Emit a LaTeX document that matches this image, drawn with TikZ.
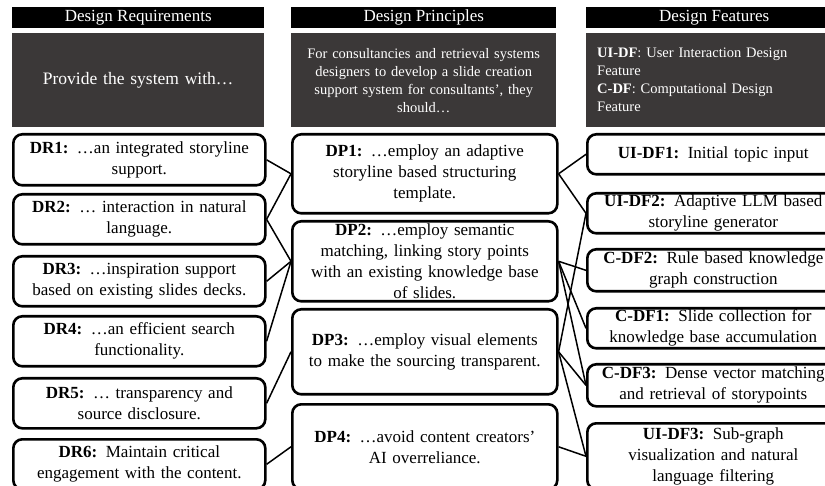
\documentclass[tikz,border=0pt]{standalone}
\usepackage{fontspec}
\setmainfont{Liberation Serif}
\usepackage{xcolor}
\usepackage{tikz}
\usetikzlibrary{positioning}
\definecolor{introgrey}{RGB}{59,56,56}

\tikzset{
    colhead/.style={fill=black, text=white, anchor=north west, inner sep=0pt,
        minimum width=252pt, minimum height=21pt, font=\fontsize{17}{21}\selectfont},
    colintro/.style={fill=introgrey, text=white, anchor=north west, inner ysep=0pt,
        minimum height=94pt, font=\fontsize{14.5}{18}\selectfont},
    itembox/.style={draw=black, line width=2.6pt, rounded corners=9pt, anchor=north west,
        align=center, inner xsep=6pt, inner ysep=0pt, font=\fontsize{17}{21}\selectfont},
    reqbox/.style={itembox, text width=240pt},
    prinbox/.style={itembox, text width=253pt},
    featbox/.style={itembox, text width=240pt},
    link/.style={line width=1.5pt}
}

\begin{document}
\begin{tikzpicture}[x=1pt, y=-1pt]
    \useasboundingbox (0,0) rectangle (825,486);
    \clip (0,0) rectangle (825,486);

    \node[colhead] (reqhead) at (12,7) {Design Requirements};
    \node[colhead, minimum width=265pt] (prinhead) at (291,7) {Design Principles};
    \node[colhead, minimum width=256pt] (feathead) at (586,7) {Design Features};

    \node[colintro, inner xsep=8pt, text width=236pt, align=center,
          font=\fontsize{17.5}{21}\selectfont] (reqintro) at (12,33) {Provide the system with…};
    \node[colintro, inner xsep=8pt, text width=249pt, align=center] (prinintro) at (291,33) {
        For consultancies and retrieval systems\\
        designers to develop a slide creation\\
        support system for consultants’, they\\
        should…};
    \node[colintro, inner xsep=11pt, text width=234pt, align=left] (featintro) at (586,33) {
        \textbf{UI-DF}: User Interaction Design\\
        Feature\\
        \textbf{C-DF}: Computational Design\\
        Feature};

    \node[reqbox, minimum height=51pt] (DR1) at (12,133) {\textbf{DR1:} …an integrated storyline\\support.};
    \node[reqbox, minimum height=50pt] (DR2) at (12,193) {\textbf{DR2:} … interaction in natural\\language.};
    \node[reqbox, minimum height=50pt] (DR3) at (12,255) {\textbf{DR3:} …inspiration support\\based on existing slides decks.};
    \node[reqbox, minimum height=50pt] (DR4) at (12,315) {\textbf{DR4:} …an efficient search\\functionality.};
    \node[reqbox, minimum height=50pt] (DR5) at (12,377) {\textbf{DR5:} … transparency and\\source disclosure.};
    \node[reqbox, minimum height=50pt] (DR6) at (12,438) {\textbf{DR6:} Maintain critical\\engagement with the content.};

    \node[prinbox, minimum height=79pt] (DP1) at (291,133) {\textbf{DP1:} …employ an adaptive\\storyline based structuring\\template.};
    \node[prinbox, minimum height=80pt] (DP2) at (291,220) {\textbf{DP2:} …employ semantic\\matching, linking story points\\with an existing knowledge base\\of slides.};
    \node[prinbox, minimum height=85pt] (DP3) at (291,308) {\textbf{DP3:} …employ visual elements\\to make the sourcing transparent.};
    \node[prinbox, minimum height=85pt] (DP4) at (291,403) {\textbf{DP4:} …avoid content creators’\\AI overreliance.};

    \node[featbox, minimum height=40pt] (UIDF1) at (586,133) {\textbf{UI-DF1:} Initial topic input};
    \node[featbox, minimum height=40pt] (UIDF2) at (586,192) {\textbf{UI-DF2:} Adaptive LLM based\\storyline generator};
    \node[featbox, minimum height=42pt] (CDF2) at (586,248) {\textbf{C-DF2:} Rule based knowledge\\graph construction};
    \node[featbox, minimum height=40pt] (CDF1) at (586,307) {\textbf{C-DF1:} Slide collection for\\knowledge base accumulation};
    \node[featbox, minimum height=42pt] (CDF3) at (586,363) {\textbf{C-DF3:} Dense vector matching\\and retrieval of storypoints};
    \node[featbox, minimum height=66pt] (UIDF3) at (586,422) {\textbf{UI-DF3:} Sub-graph\\visualization and natural\\language filtering};

    % requirements to principles
    \draw[link] (DR1.east) -- (DP1.west);
    \draw[link] (DR2.east) -- (DP1.west);
    \draw[link] (DR2.east) -- (DP2.west);
    \draw[link] (DR3.east) -- (DP2.west);
    \draw[link] (DR4.east) -- (DP2.west);
    \draw[link] (DR5.east) -- (DP3.west);
    \draw[link] (DR6.east) -- (DP4.west);

    % principles to features
    \draw[link] (DP1.east) -- (UIDF1.west);
    \draw[link] (DP1.east) -- (UIDF2.west);
    \draw[link] (DP2.east) -- (CDF2.west);
    \draw[link] (DP2.east) -- (CDF1.west);
    \draw[link] (DP2.east) -- (CDF3.west);
    \draw[link] (DP3.east) -- (UIDF2.west);
    \draw[link] (DP3.east) -- (CDF3.west);
    \draw[link] (DP3.east) -- (UIDF3.west);
    \draw[link] (DP4.east) -- (UIDF3.west);
\end{tikzpicture}
\end{document}
